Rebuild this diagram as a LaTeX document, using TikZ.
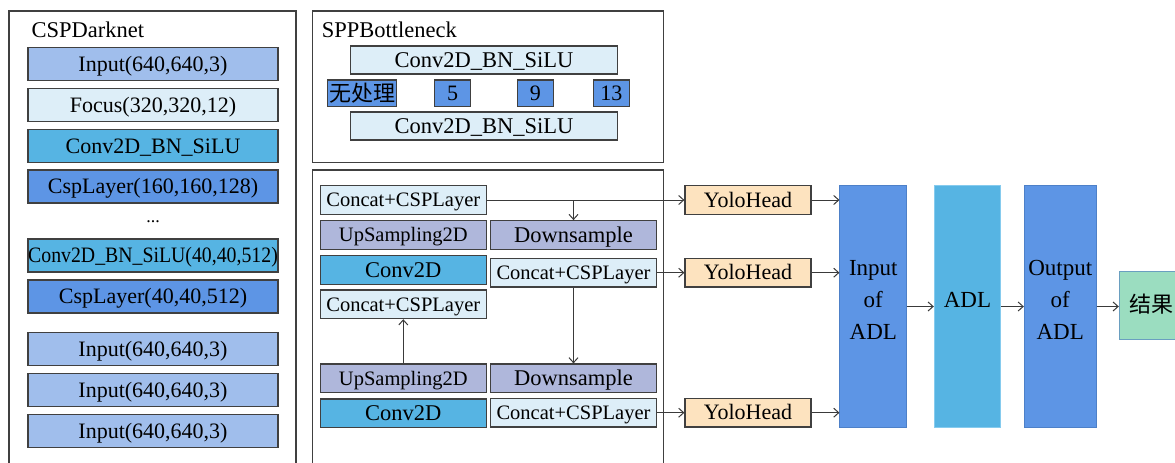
\documentclass[tikz,border=0pt]{standalone}
\usepackage{graphicx}
\usepackage{fontspec}
\setmainfont{Liberation Serif}
\newfontfamily\cjk{Noto Sans CJK SC}
\usetikzlibrary{arrows.meta}
\definecolor{cborder}{HTML}{404040}
\definecolor{carrow}{HTML}{3A3A3A}
\definecolor{cinput}{HTML}{A0BEEC}
\definecolor{cpale}{HTML}{DDEEF8}
\definecolor{ccyan}{HTML}{56B4E3}
\definecolor{cmid}{HTML}{5D95E5}
\definecolor{clav}{HTML}{AFB7DB}
\definecolor{corange}{HTML}{FDE3BF}
\definecolor{cgreen}{HTML}{9BDDC0}
\definecolor{cblueb}{HTML}{4D80C8}
\definecolor{ccyanb}{HTML}{86CBEE}
\definecolor{cgreenb}{HTML}{6A9FC0}
\begin{document}
\begin{tikzpicture}[x=1pt,y=-1pt,
  fs/.style={font=\fontsize{#1}{#1}\selectfont},
  ta/.style={fs=20.5, text height=17.6pt, text depth=4.1pt},
  tb/.style={fs=22, text height=18.9pt, text depth=4.4pt},
  tc/.style={fs=22.5, text height=19.35pt, text depth=4.5pt},
  bx/.style={draw=cborder, line width=1.2pt, inner sep=0pt, tb},
  lc/.style={bx, minimum width=250pt, minimum height=33pt},
  mc/.style={bx, minimum width=166pt, minimum height=28.6pt},
  yh/.style={bx, fill=corange, minimum width=126pt, minimum height=28.6pt},
  sq/.style={bx, fill=cmid, minimum width=36pt, minimum height=26.7pt},
  tall/.style={draw=cblueb, line width=1pt, inner sep=0pt, minimum height=241.6pt},
  panel/.style={draw=cborder, line width=1.3pt},
  arr/.style={draw=carrow, line width=1pt, -{Straight Barb[length=5pt,width=9pt]}}]
\clip (0,0) rectangle (1175,463);
\fill[white] (0,0) rectangle (1175,463);

% panels
\draw[panel] (9,470) |- (296,11) -- (296,470);
\draw[panel] (312.3,11) rectangle (663.3,162.3);
\draw[panel] (312.3,470) |- (663.3,170) -- (663.3,470);

% CSPDarknet
\node[anchor=base west, fs=22.5] (t1) at (28,37.5) {CSPDarknet};
\node[lc, fill=cinput] (c1) at (153,64.2) {Input(640,640,3)};
\node[lc, fill=cpale] (c2) at (153,104.8) {Focus(320,320,12)};
\node[lc, fill=ccyan] (c3) at (153,145.8) {Conv2D\_BN\_SiLU};
\node[lc, fill=cmid] (c4) at (153,186.5) {CspLayer(160,160,128)};
\node[anchor=base, fs=18] (dots) at (153,222) {...};
\node[lc, fill=ccyan] (c5) at (153,255.5) {\scalebox{0.9}[1]{Conv2D\_BN\_SiLU(40,40,512)}};
\node[lc, fill=cmid] (c6) at (153,296.5) {CspLayer(40,40,512)};
\node[lc, fill=cinput] (c7) at (153,348.8) {Input(640,640,3)};
\node[lc, fill=cinput] (c8) at (153,389.8) {Input(640,640,3)};
\node[lc, fill=cinput] (c9) at (153,430.8) {Input(640,640,3)};

% SPPBottleneck
\node[anchor=base west, fs=22.5] (t2) at (318.3,37.5) {SPPBottleneck};
\node[bx, tc, fill=cpale, minimum width=266.7pt, minimum height=28pt] (s1) at (484,60) {Conv2D\_BN\_SiLU};
\node[bx, fill=cmid, minimum width=69.3pt, minimum height=26.7pt, text height=18pt, text depth=1.3pt] (s2) at (362,93.3) {\cjk 无处理};
\node[sq] (s3) at (452.5,93.3) {5};
\node[sq] (s4) at (535.3,93.3) {9};
\node[sq] (s5) at (611.3,93.3) {13};
\node[bx, tc, fill=cpale, minimum width=266.7pt, minimum height=28pt] (s6) at (484,126) {Conv2D\_BN\_SiLU};

% neck
\node[mc, ta, fill=cpale] (l1) at (403.3,200) {Concat+CSPLayer};
\node[mc, ta, fill=clav] (l2) at (403.3,235) {UpSampling2D};
\node[mc, tc, fill=ccyan] (l3) at (403.3,269.8) {Conv2D};
\node[mc, ta, fill=cpale] (l4) at (403.3,304.3) {Concat+CSPLayer};
\node[mc, ta, fill=clav] (l5) at (403.3,378.3) {UpSampling2D};
\node[mc, tc, fill=ccyan] (l6) at (403.3,413.2) {Conv2D};
\node[mc, tc, fill=clav] (r1) at (573.5,235) {Downsample};
\node[mc, ta, fill=cpale] (r2) at (573.5,272.7) {Concat+CSPLayer};
\node[mc, tc, fill=clav] (r3) at (573.5,378.3) {Downsample};
\node[mc, ta, fill=cpale] (r4) at (573.5,412.7) {Concat+CSPLayer};

% heads
\node[yh] (h1) at (748,200) {YoloHead};
\node[yh] (h2) at (748,272.7) {YoloHead};
\node[yh] (h3) at (748,412.7) {YoloHead};

% ADL
\node[tall, fill=cmid, minimum width=66.7pt] (ia) at (873.3,306.5) {};
\node[tall, draw=ccyanb, fill=ccyan, minimum width=66.4pt] (ad) at (967.5,306.5) {};
\node[tall, fill=cmid, minimum width=71.7pt] (oa) at (1060.2,306.5) {};
\node[draw=cgreenb, line width=1pt, fill=cgreen, inner sep=0pt, minimum width=66pt, minimum height=67.6pt] (res) at (1152.3,305.5) {};
\node[align=center, font=\fontsize{23}{32}\selectfont] (iat) at (873.3,300) {Input\\of\\ADL};
\node[fs=23] (adt) at (967.5,300) {ADL};
\node[align=center, font=\fontsize{23}{32}\selectfont] (oat) at (1060.2,300) {Output\\of\\ADL};
\node[fs=22] (rest) at (1151.5,304) {\cjk 结果};

% arrows
\draw[arr] (l1.east) -- (h1.west);
\draw[arr] (l1.east -| r1.north) -- (r1.north);
\draw[arr] (r2.east) -- (h2.west);
\draw[arr] (r2.south) -- (r3.north);
\draw[arr] (l5.north) -- (l4.south);
\draw[arr] (r4.east) -- (h3.west);
\draw[arr] (h1.east) -- (h1.east -| ia.west);
\draw[arr] (h2.east) -- (h2.east -| ia.west);
\draw[arr] (h3.east) -- (h3.east -| ia.west);
\draw[arr] (ia.east) -- (ad.west);
\draw[arr] (ad.east) -- (oa.west);
\draw[arr] (oa.east) -- (oa.east -| res.west);
\end{tikzpicture}
\end{document}
